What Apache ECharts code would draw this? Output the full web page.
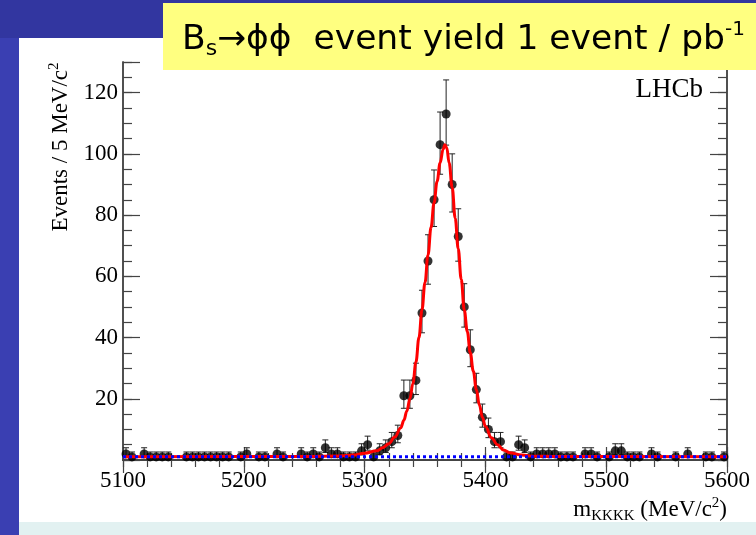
<!DOCTYPE html>
<html>
<head>
<meta charset="utf-8">
<script src="https://cdn.jsdelivr.net/npm/echarts@6/dist/echarts.min.js"></script>
<style>
html,body{margin:0;padding:0;background:#3236a0;}
#chart{width:756px;height:535px;}
</style>
</head>
<body>
<div id="chart"></div>
<script>
// KKKK invariant mass histogram: 5 MeV/c^2 bins starting at 5100
const massMin = 5100;
const massMax = 5600;
const binWidth = 5;
const counts = [
  2, 1, 0, 2, 1, 1, 1, 1, 0, 0,
  1, 1, 1, 1, 1, 1, 1, 1, 0, 1,
  2, 0, 1, 1, 0, 2, 1, 0, 0, 2,
  1, 2, 1, 4, 2, 2, 1, 1, 1, 3,
  5, 1, 3, 4, 6, 8, 21, 21, 26, 48,
  65, 85, 103, 113, 90, 73, 50, 36, 23, 14,
  10, 6, 6, 1, 1, 5, 4, 1, 2, 2,
  2, 2, 1, 1, 1, 0, 2, 2, 1, 0,
  1, 3, 3, 1, 1, 1, 0, 2, 1, 0,
  0, 1, 0, 2, 0, 0, 1, 1, 0, 1
];

// Fitted total PDF (signal + flat background)
const fitMass  = [5100, 5250, 5280, 5290, 5300, 5310, 5315, 5320, 5325, 5330, 5332.5, 5335, 5337.5, 5340, 5342.5, 5345, 5347.5, 5350, 5352.5, 5355, 5357.5, 5360, 5362.5, 5365, 5366.5, 5368, 5370, 5372.5, 5375, 5377.5, 5380, 5382.5, 5385, 5387.5, 5390, 5392.5, 5395, 5397.5, 5400, 5405, 5410, 5415, 5420, 5430, 5440, 5460, 5600];
const fitValue = [1.1, 1.15, 1.3, 1.6, 2.2, 3.0, 4.0, 5.3, 7.5, 10.5, 13, 16, 20, 25, 32, 40, 49, 58, 67, 76, 84, 91, 97, 101.5, 103, 102, 97, 89, 79, 69, 59, 49, 42, 35, 29, 23, 18, 14, 11, 7.3, 5.0, 3.3, 2.4, 1.6, 1.25, 1.12, 1.1];

// Flat background component
const bkgMass  = [5100, 5600];
const bkgValue = [1.1, 1.1];

// Axis ticks
const xMajor = 100, xMinor = 20;
const yMin = 0, yMax = 130, yMajor = 20, yMinor = 5;
const yTickLabels = [20, 40, 60, 80, 100, 120];

const serif = 'Liberation Serif';
const axisColor = '#444';

// data points with approximate Poisson error bars
const points = [];
const errors = [];
counts.forEach((n, i) => {
  if (n <= 0) return;
  const m = massMin + binWidth * (i + 0.5);
  const s = Math.sqrt(n + 0.25);
  points.push([m, n]);
  errors.push([m, n - (s - 0.5), n + (s + 0.5)]);
});

function xAxisDef(position, interval, tickLen, showLabel) {
  return {
    type: 'value', position: position, min: massMin, max: massMax, interval: interval,
    axisLine: {show: true, lineStyle: {color: axisColor, width: 1.5}},
    axisTick: {show: true, inside: true, length: tickLen, lineStyle: {color: axisColor, width: 1.2}},
    axisLabel: {show: showLabel, fontFamily: serif, fontSize: 23, color: '#000', margin: 9,
      formatter: v => String(v)},
    splitLine: {show: false}
  };
}
function yAxisDef(position, interval, tickLen, showLabel) {
  return {
    type: 'value', position: position, min: yMin, max: yMax, interval: interval,
    axisLine: {show: true, lineStyle: {color: axisColor, width: 1.5}},
    axisTick: {show: true, inside: true, length: tickLen, lineStyle: {color: axisColor, width: 1.2}},
    axisLabel: {
      show: showLabel, fontFamily: serif, fontSize: 23, color: '#000', margin: 5,
      formatter: v => (yTickLabels.indexOf(v) >= 0 ? String(v) : '')
    },
    splitLine: {show: false}
  };
}

const chart = echarts.init(document.getElementById('chart'));
chart.setOption({
  animation: false,
  backgroundColor: 'transparent',
  grid: {left: 123, top: 62, width: 604, height: 398, containLabel: false},
  xAxis: [
    xAxisDef('bottom', xMajor, 13, true),
    xAxisDef('bottom', xMinor, 7, false),
    xAxisDef('top', xMajor, 13, false),
    xAxisDef('top', xMinor, 7, false)
  ],
  yAxis: [
    yAxisDef('left', yMajor, 17, true),
    yAxisDef('left', yMinor, 9, false),
    yAxisDef('right', yMajor, 17, false),
    yAxisDef('right', yMinor, 9, false)
  ],
  graphic: [
    // slide background
    {type: 'rect', z: -20, shape: {x: 0, y: 0, width: 756, height: 535}, style: {fill: '#3236a0'}},
    {type: 'rect', z: -19, shape: {x: 0, y: 38, width: 19, height: 497}, style: {fill: '#3a3fb2'}},
    {type: 'rect', z: -18, shape: {x: 19, y: 38, width: 737, height: 484}, style: {fill: '#ffffff'}},
    {type: 'rect', z: -18, shape: {x: 19, y: 522, width: 737, height: 13}, style: {fill: '#e2f1f1'}},
    // title box
    {type: 'rect', z: 50, shape: {x: 163, y: 3, width: 600, height: 67}, style: {fill: '#ffff80'}},
    {
      type: 'text', z: 51, x: 182, y: 40,
      style: {
        text: '{m|B}{s|s}{m|\u2192\u03d5\u03d5  event yield 1 event / pb}{p|-1}',
        verticalAlign: 'middle', align: 'left',
        rich: {
          m: {fontFamily: 'DejaVu Sans', fontSize: 34.5, lineHeight: 40, verticalAlign: 'middle', fill: '#000'},
          s: {fontFamily: 'DejaVu Sans', fontSize: 22, lineHeight: 14, verticalAlign: 'bottom', fill: '#000'},
          p: {fontFamily: 'DejaVu Sans', fontSize: 20, lineHeight: 20, verticalAlign: 'top', fill: '#000'}
        }
      }
    },
    // experiment tag
    {type: 'text', z: 10, x: 703, y: 90, style: {text: 'LHCb', font: '27px "Liberation Serif"', fill: '#000', align: 'right', verticalAlign: 'middle'}},
    // y axis title
    {
      type: 'text', z: 10, x: 61, y: 147, rotation: Math.PI / 2,
      style: {
        text: '{m|Events / 5 MeV/c}{p|2}',
        align: 'center', verticalAlign: 'middle',
        rich: {
          m: {fontFamily: serif, fontSize: 23, lineHeight: 28, verticalAlign: 'middle', fill: '#000'},
          p: {fontFamily: serif, fontSize: 15, lineHeight: 16, verticalAlign: 'top', fill: '#000'}
        }
      }
    },
    // x axis title
    {
      type: 'text', z: 10, x: 727, y: 510,
      style: {
        text: '{m|m}{s|KKKK}{m| (MeV/c}{p|2}{m|)}',
        align: 'right', verticalAlign: 'middle',
        rich: {
          m: {fontFamily: serif, fontSize: 23, lineHeight: 28, verticalAlign: 'middle', fill: '#000'},
          s: {fontFamily: serif, fontSize: 15, lineHeight: 10, verticalAlign: 'bottom', fill: '#000'},
          p: {fontFamily: serif, fontSize: 15, lineHeight: 16, verticalAlign: 'top', fill: '#000'}
        }
      }
    }
  ],
  series: [
    {
      type: 'custom', name: 'errors', xAxisIndex: 0, yAxisIndex: 0, z: 2, clip: true,
      data: errors,
      renderItem: function (params, api) {
        const x = api.value(0);
        const top = api.coord([x, api.value(2)]);
        const bot = api.coord([x, api.value(1)]);
        const c = 3;
        const st = {stroke: '#222', lineWidth: 1};
        return {type: 'group', children: [
          {type: 'line', shape: {x1: top[0], y1: top[1], x2: bot[0], y2: bot[1]}, style: st},
          {type: 'line', shape: {x1: top[0] - c, y1: top[1], x2: top[0] + c, y2: top[1]}, style: st},
          {type: 'line', shape: {x1: bot[0] - c, y1: bot[1], x2: bot[0] + c, y2: bot[1]}, style: st}
        ]};
      }
    },
    {
      type: 'scatter', name: 'data', xAxisIndex: 0, yAxisIndex: 0, z: 3,
      symbol: 'circle', symbolSize: 9, itemStyle: {color: '#000'},
      data: points
    },
    {
      type: 'line', name: 'fit', xAxisIndex: 0, yAxisIndex: 0, z: 4,
      smooth: 0.4, smoothMonotone: 'x', showSymbol: false,
      lineStyle: {color: '#ff0000', width: 3},
      data: fitMass.map((m, i) => [m, fitValue[i]])
    },
    {
      type: 'line', name: 'background', xAxisIndex: 0, yAxisIndex: 0, z: 5,
      showSymbol: false,
      lineStyle: {color: '#0000ff', width: 3, type: [3, 3]},
      data: bkgMass.map((m, i) => [m, bkgValue[i]])
    }
  ]
});
</script>
</body>
</html>
